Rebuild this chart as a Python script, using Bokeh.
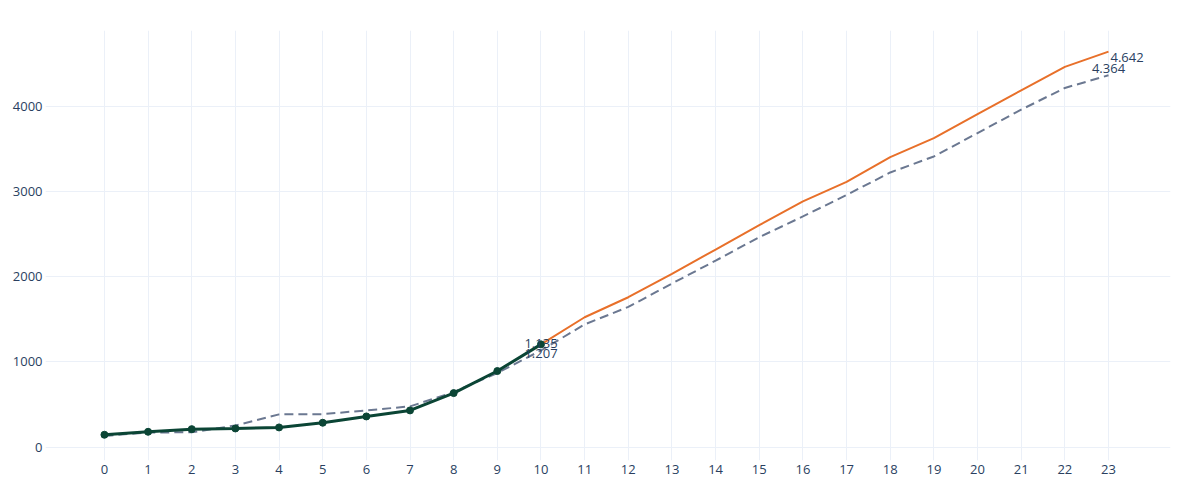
from bokeh.plotting import figure
from bokeh.models import Range1d, FixedTicker, ColumnDataSource
from bokeh.core.properties import value
from bokeh.embed import file_html
from bokeh.resources import INLINE

# Data
x_all = list(range(0, 24))
x_actual = list(range(0, 11))
x_forecast = list(range(10, 24))
actual = [146, 181, 212, 220, 232, 287, 361, 432, 635, 894, 1207]
forecast = [1207, 1525, 1760, 2035, 2320, 2605, 2885, 3113, 3405, 3628, 3910, 4188, 4463, 4642]
reference = [132, 173, 175, 255, 385, 388, 432, 479, 647, 871, 1135, 1441, 1646, 1921,
             2189, 2465, 2708, 2960, 3224, 3412, 3687, 3961, 4216, 4364]
y_ticks = [0, 1000, 2000, 3000, 4000]

FONT = "Open Sans"
TXT = "#2a3f5f"
GRID = "#ebf0f8"

p = figure(width=1184, height=484, output_backend="svg", toolbar_location=None,
           x_range=Range1d(-1.35, 24.42), y_range=Range1d(-156, 4890),
           min_border_left=45, min_border_right=14, min_border_top=30, min_border_bottom=24)
p.outline_line_color = None
p.background_fill_color = "white"
p.border_fill_color = "white"

for ax in (p.xaxis[0], p.yaxis[0]):
    ax.axis_line_color = None
    ax.major_tick_line_color = None
    ax.minor_tick_line_color = None
    ax.major_tick_out = 0
    ax.major_tick_in = 0
    ax.major_label_text_font = FONT
    ax.major_label_text_font_size = "13px"
    ax.major_label_text_color = TXT
p.xaxis.ticker = FixedTicker(ticks=x_all)
p.yaxis.ticker = FixedTicker(ticks=y_ticks)
p.xaxis.major_label_standoff = 4
p.yaxis.major_label_standoff = 3
p.xgrid.grid_line_color = GRID
p.ygrid.grid_line_color = GRID
p.xgrid.ticker = FixedTicker(ticks=x_all)
p.ygrid.ticker = FixedTicker(ticks=y_ticks)

# Lines
p.line(x_all, reference, line_color="#6b7891", line_width=2, line_dash="9 5")
p.line(x_forecast, forecast, line_color="#e8702a", line_width=2)
p.line(x_actual, actual, line_color="#0b4535", line_width=3)
p.scatter(x_actual, actual, size=7, fill_color="#0b4535", line_color="#0b4535")

def fmt(v):
    return f"{v:,}".replace(",", ".")

lab = ColumnDataSource(dict(
    x=[x_all[10], x_actual[-1], x_all[-1]],
    y=[reference[10], actual[-1], reference[-1]],
    t=[fmt(reference[10]), fmt(actual[-1]), fmt(reference[-1])],
    yo=[-7, 9.5, -7],
))
p.text(x="x", y="y", text="t", y_offset="yo", source=lab, text_align="center",
       text_baseline="middle", text_font=value(FONT), text_font_size="13px", text_color=TXT)
p.text(x=[x_forecast[-1]], y=[forecast[-1]], text=[fmt(forecast[-1])], x_offset=2, y_offset=5.5,
       text_align="left", text_baseline="middle", text_font=value(FONT),
       text_font_size="13px", text_color=TXT)

open("out.html", "w").write(file_html(p, INLINE))
